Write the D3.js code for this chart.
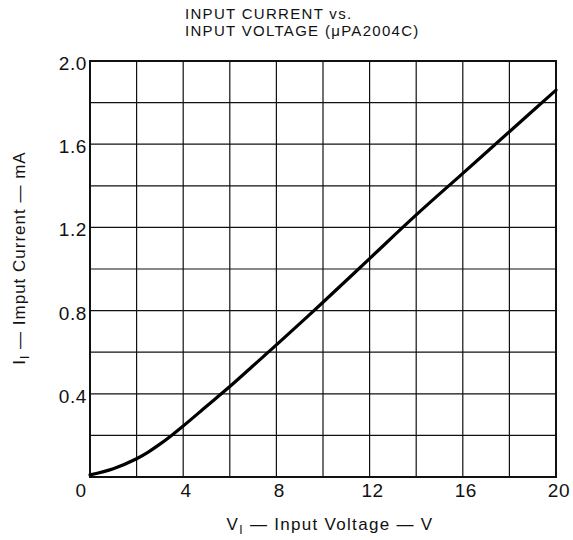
<!DOCTYPE html>
<html lang="en">
<head>
  <meta charset="UTF-8">
  <title>Input Current vs. Input Voltage</title>
  <style>
    body {
      margin: 0;
      background-color: #fff;
      font-family: "Liberation Sans", Arial, sans-serif;
    }
    .grid line {
      stroke: #111;
      stroke-width: 1.2;
    }
    .tick-label {
      font-size: 19px;
      letter-spacing: 0.6px;
      fill: #111;
    }
  </style>
</head>
<body>
  <div id="chart"></div>

  <script src="https://d3js.org/d3.v7.min.js"></script>
  <script>
    const width = 573;
    const height = 540;

    // curve (V, mA)
    const voltage = [0, 1, 2, 2.5, 3, 3.5, 4, 5, 6, 7, 8, 10, 12, 14, 16, 18, 20];
    const current = [0.01, 0.04, 0.088, 0.12, 0.158, 0.2, 0.245, 0.34, 0.435, 0.535, 0.635, 0.84, 1.05, 1.26, 1.46, 1.66, 1.86];

    const xTicks = [0, 4, 8, 12, 16, 20];
    const yTicks = [0.4, 0.8, 1.2, 1.6, 2.0];
    const xGrid = d3.range(0, 21, 2);
    const yGrid = [0, 0.2, 0.4, 0.6, 0.8, 1.0, 1.2, 1.4, 1.6, 1.8, 2.0];

    const margin = {top: 61, right: 17, bottom: 63, left: 90};

    const svg = d3.select("#chart")
                  .append("svg")
                  .attr("width", width)
                  .attr("height", height);

    const x = d3.scaleLinear()
                .domain([0, 20])
                .range([margin.left, width - margin.right]);

    const y = d3.scaleLinear()
                .domain([0, 2])
                .range([height - margin.bottom, margin.top]);

    // grid
    const grid = svg.append("g").attr("class", "grid");
    grid.selectAll(".vx")
        .data(xGrid)
        .enter()
        .append("line")
        .attr("x1", d => x(d)).attr("x2", d => x(d))
        .attr("y1", y(0)).attr("y2", y(2));
    grid.selectAll(".hy")
        .data(yGrid)
        .enter()
        .append("line")
        .attr("x1", x(0)).attr("x2", x(20))
        .attr("y1", d => y(d)).attr("y2", d => y(d));

    // frame
    svg.append("rect")
       .attr("x", x(0))
       .attr("y", y(2))
       .attr("width", x(20) - x(0))
       .attr("height", y(0) - y(2))
       .attr("fill", "none")
       .attr("stroke", "#111")
       .attr("stroke-width", 2);

    // tick labels
    svg.selectAll(".xlab")
       .data(xTicks)
       .enter()
       .append("text")
       .attr("class", "tick-label")
       .attr("x", d => x(d) + (d === 0 ? -9 : 3))
       .attr("y", y(0) + 20)
       .attr("text-anchor", "middle")
       .text(d => d);

    svg.selectAll(".ylab")
       .data(yTicks)
       .enter()
       .append("text")
       .attr("class", "tick-label")
       .attr("x", x(0) - 3)
       .attr("y", d => y(d) + 9)
       .attr("text-anchor", "end")
       .text(d => d3.format(".1f")(d));

    // curve
    const line = d3.line()
                   .x((d, i) => x(voltage[i]))
                   .y(d => y(d))
                   .curve(d3.curveCatmullRom);

    svg.append("path")
       .datum(current)
       .attr("d", line)
       .attr("fill", "none")
       .attr("stroke", "#000")
       .attr("stroke-width", 3.2)
       .attr("stroke-linecap", "round");

    // title
    const title = svg.append("text")
                     .attr("x", 185)
                     .attr("y", 19)
                     .attr("font-size", 15)
                     .attr("letter-spacing", 1.3)
                     .attr("fill", "#111");
    title.append("tspan").text("INPUT CURRENT ");
    title.append("tspan").text("vs.");
    svg.append("text")
       .attr("x", 185)
       .attr("y", 36)
       .attr("font-size", 15)
       .attr("letter-spacing", 1.3)
       .attr("fill", "#111")
       .text("INPUT VOLTAGE (\u03bcPA2004C)");

    // axis titles
    const xt = svg.append("text")
                  .attr("x", 330)
                  .attr("y", 530)
                  .attr("text-anchor", "middle")
                  .attr("font-size", 17)
                  .attr("letter-spacing", 1.3)
                  .attr("fill", "#111");
    xt.append("tspan").text("V");
    xt.append("tspan").attr("font-size", 12).attr("dy", 4).text("I");
    xt.append("tspan").attr("dy", -4).text("  \u2014  Input Voltage  \u2014  V");

    const yt = svg.append("text")
                  .attr("transform", "translate(25,258) rotate(-90)")
                  .attr("text-anchor", "middle")
                  .attr("font-size", 17)
                  .attr("letter-spacing", 1)
                  .attr("fill", "#111");
    yt.append("tspan").text("I");
    yt.append("tspan").attr("font-size", 12).attr("dy", 4).text("I");
    yt.append("tspan").attr("dy", -4).text("  \u2014  Imput Current  \u2014  mA");
  </script>
</body>
</html>
